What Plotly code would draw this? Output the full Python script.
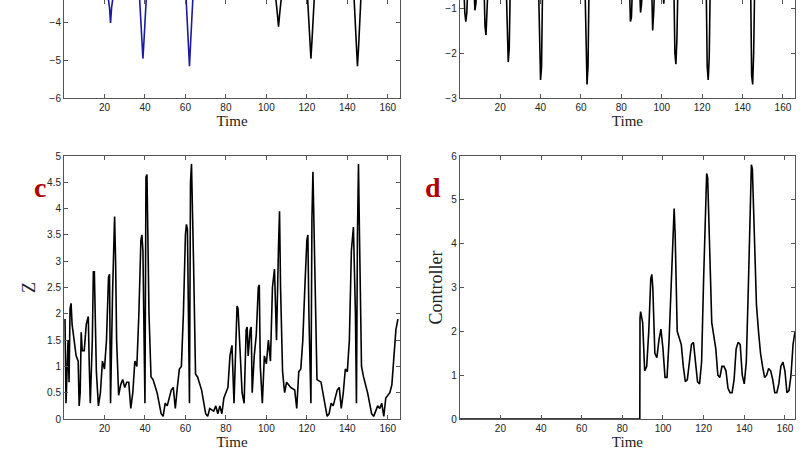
import plotly.graph_objects as go

# Panel a (top-left), downward spikes, blue before control, black after
a_t1 = [0, 21, 22.5, 23, 23.5, 25, 37, 38.5, 39, 39.5, 41, 60, 61.5, 62, 62.5, 64, 88]
a_v1 = [-3, -3, -3.6, -4.0, -3.6, -3, -3, -4.5, -4.95, -4.5, -3, -3, -4.6, -5.15, -4.6, -3, -3]
a_t2 = [88, 104, 105.5, 106, 106.5, 108, 120, 121.5, 122, 122.5, 124, 143, 144.5, 145, 145.5, 147, 165]
a_v2 = [-3, -3, -3.8, -4.1, -3.8, -3, -3, -4.5, -4.95, -4.5, -3, -3, -4.7, -5.15, -4.7, -3, -3]

# Panel b (top-right)
b_t = [0, 2, 2.5, 3, 3.5, 4, 7, 7.5, 8, 8.5, 12, 12.5, 13, 13.5, 14, 23, 23.5, 24, 24.5, 25,
       39, 39.5, 40, 40.5, 41, 62, 62.5, 63, 63.5, 64, 84, 84.5, 85, 85.5, 89, 89.5, 90, 90.5,
       95, 95.5, 96, 96.5, 100.5, 101, 101.5, 106, 106.5, 107, 107.5, 108, 122, 122.5, 123, 123.5, 124,
       144, 144.5, 145, 145.5, 146, 165]
b_v = [-0.5, -0.5, -1.1, -1.3, -1.1, -0.5, -0.5, -1.05, -0.9, -0.5, -0.5, -1.4, -1.6, -1.2, -0.5,
       -0.5, -1.5, -2.2, -1.9, -0.5, -0.5, -1.8, -2.6, -2.3, -0.5, -0.5, -2.1, -2.7, -2.3, -0.5,
       -0.5, -1.3, -1.2, -0.5, -0.5, -1.1, -0.9, -0.5, -0.5, -1.5, -1.1, -0.5, -0.5, -0.9, -0.5,
       -0.5, -2.0, -2.25, -1.7, -0.5, -0.5, -2.3, -2.6, -2.1, -0.5, -0.5, -2.5, -2.7, -2.0, -0.5, -0.5]

# Panel c: Z
c_t = [0.5, 1, 2, 2.5, 3, 3.5, 4, 5, 6, 7, 7.5, 8, 8.5, 9, 10, 11, 12, 12.5, 13, 14, 14.5, 15, 15.5, 16,
       17, 18, 19, 20, 21, 22, 22.5, 23, 24, 25, 25.5, 26, 27, 28, 29, 30, 31, 32, 33, 34, 35, 36, 37, 38,
       38.5, 39, 40, 40.5, 41, 42, 43, 44, 46, 48, 49, 50, 51, 53, 54, 55, 56, 57, 58, 59, 60, 60.5, 61,
       62, 62.5, 63, 64, 65, 66, 68, 70, 71, 72, 74, 75, 76, 77, 78, 79, 81, 82, 83, 84, 85, 85.5, 86,
       87, 88, 89, 90, 90.5, 91, 92, 92.5, 93, 94, 95, 96, 96.5, 97, 98, 99, 100, 101, 102, 103, 104,
       105, 106, 106.5, 107, 108, 109, 110, 112, 114, 115, 116, 117, 118, 119, 120, 120.5, 121, 122,
       122.5, 123, 124, 125, 127, 129, 130, 131, 132, 133, 135, 136, 137, 138, 139, 140, 141, 142, 143,
       144, 144.5, 145, 145.5, 146, 147, 148, 150, 152, 153, 155, 156, 157, 158, 159, 160, 161, 162, 163, 164, 165]
c_z = [1.9, 0.3, 1.5, 0.7, 2.1, 2.2, 1.8, 1.5, 1.2, 1.1, 0.25, 0.5, 1.65, 1.3, 1.3, 1.8, 1.95, 1.0, 0.3,
       1.5, 2.8, 2.8, 1.8, 0.9, 0.25, 0.5, 1.1, 0.95, 1.5, 2.7, 2.75, 0.3, 2.4, 3.85, 3.0, 1.5, 0.45,
       0.65, 0.75, 0.6, 0.7, 0.7, 0.2, 0.5, 1.1, 1.0, 2.0, 3.4, 3.5, 3.2, 0.3, 4.6, 4.65, 2.0, 0.8, 0.75,
       0.5, 0.1, 0.05, 0.3, 0.25, 0.55, 0.6, 0.2, 0.6, 0.95, 1.0, 2.0, 3.5, 3.7, 3.6, 0.3, 4.5, 4.85,
       3.0, 0.85, 0.8, 0.55, 0.1, 0.05, 0.2, 0.15, 0.25, 0.1, 0.25, 0.1, 0.4, 0.6, 1.2, 1.4, 0.3, 1.5,
       2.15, 2.1, 1.3, 0.5, 0.3, 1.7, 1.75, 1.2, 1.7, 1.75, 0.5, 1.2, 1.6, 2.5, 2.55, 1.0, 0.3, 1.2,
       1.05, 1.5, 1.1, 2.5, 2.85, 1.5, 3.3, 3.95, 2.5, 0.9, 0.5, 0.7, 0.6, 0.55, 0.2, 0.9, 0.95, 1.5,
       2.5, 3.4, 3.5, 2.0, 0.3, 3.8, 4.7, 3.0, 0.75, 0.7, 0.3, 0.05, 0.1, 0.3, 0.25, 0.55, 0.6, 0.2,
       0.5, 0.95, 0.9, 1.5, 3.2, 3.65, 2.0, 0.3, 3.5, 4.85, 3.5, 1.0, 0.8, 0.5, 0.1, 0.05, 0.25, 0.2,
       0.3, 0.05, 0.4, 0.45, 0.5, 0.65, 1.2, 1.7, 1.9]

# Panel d: Controller
d_t = [0, 88.6, 88.7, 89, 90, 91, 92, 93, 94, 94.5, 95, 96, 97, 98, 99, 100, 101, 102, 103, 104, 105,
       105.5, 106, 107, 108, 109, 110, 111, 112, 113, 114, 115, 116, 117, 118, 119, 120, 121, 121.5,
       122, 123, 124, 126, 127, 128, 129, 130, 131, 132, 133, 134, 135, 136, 137, 138, 139, 140, 141,
       142, 143, 143.5, 144, 145, 146, 147, 148, 149, 150, 151, 152, 153, 154, 155, 156, 157, 158, 159,
       160, 161, 162, 163, 164, 165]
d_u = [0, 0, 2.3, 2.45, 2.2, 1.1, 1.2, 2.0, 3.2, 3.3, 3.0, 1.5, 1.4, 1.8, 2.05, 1.6, 0.95, 0.95, 1.8,
       3.0, 4.5, 4.8, 4.2, 2.0, 1.85, 1.7, 1.2, 0.85, 0.9, 1.3, 1.7, 1.75, 1.3, 0.85, 0.8, 1.3, 3.2,
       5.0, 5.6, 5.5, 3.5, 2.2, 1.6, 1.0, 0.95, 1.2, 1.2, 1.1, 0.7, 0.6, 0.6, 0.9, 1.6, 1.75, 1.7, 1.0,
       0.8, 1.3, 3.0, 5.0, 5.8, 5.7, 4.0, 2.6, 2.0, 1.5, 1.2, 0.95, 1.0, 1.15, 1.1, 0.9, 0.6, 0.6, 0.8,
       1.2, 1.3, 1.1, 0.6, 0.65, 1.0, 1.7, 2.0]

x_ticks = [20, 40, 60, 80, 100, 120, 140, 160]

fig = go.Figure()
line_k = dict(color="black", width=1.6)
fig.add_trace(go.Scatter(x=a_t1, y=a_v1, mode="lines", line=dict(color="#1a1aa0", width=1.6), xaxis="x", yaxis="y"))
fig.add_trace(go.Scatter(x=a_t2, y=a_v2, mode="lines", line=line_k, xaxis="x", yaxis="y"))
fig.add_trace(go.Scatter(x=b_t, y=b_v, mode="lines", line=line_k, xaxis="x2", yaxis="y2"))
fig.add_trace(go.Scatter(x=c_t, y=c_z, mode="lines", line=line_k, xaxis="x3", yaxis="y3"))
fig.add_trace(go.Scatter(x=d_t, y=d_u, mode="lines", line=line_k, xaxis="x4", yaxis="y4"))

tick_font = dict(family="Arial, Liberation Sans", size=10, color="#222")
title_font = dict(family="Liberation Serif", size=15, color="#222")
ytitle_font = dict(family="Liberation Serif", size=18, color="#222")
common = dict(showline=True, linecolor="#555", linewidth=1, mirror="ticks", ticks="inside",
              ticklen=4, tickcolor="#555", showgrid=False, zeroline=False, tickfont=tick_font,
              automargin=False)
xc = dict(common, tickvals=x_ticks, title=dict(text="Time", font=title_font, standoff=2))

L = [0.0792, 0.495]
R = [0.569, 0.984]
T = [0.7846, 1.0]
B = [0.0791, 0.6571]

fig.update_layout(
    width=808, height=455, margin=dict(l=0, r=0, t=0, b=0),
    paper_bgcolor="white", plot_bgcolor="white", showlegend=False,
    xaxis=dict(xc, domain=L, anchor="y", range=[0, 166]),
    yaxis=dict(common, domain=T, anchor="x", range=[-6, -3.39], dtick=1),
    xaxis2=dict(xc, domain=R, anchor="y2", range=[0, 166]),
    yaxis2=dict(common, domain=T, anchor="x2", range=[-3, -0.82], dtick=1),
    xaxis3=dict(xc, domain=L, anchor="y3", range=[0, 166]),
    yaxis3=dict(common, domain=B, anchor="x3", range=[0, 5], dtick=0.5,
                title=dict(text="Z", font=ytitle_font, standoff=6)),
    xaxis4=dict(xc, domain=R, anchor="y4", range=[0, 165]),
    yaxis4=dict(common, domain=B, anchor="x4", range=[0, 6], dtick=1,
                title=dict(text="Controller", font=ytitle_font, standoff=3)),
    annotations=[
        dict(text="<b>c</b>", x=40 / 808, y=1 - 187 / 455, xref="paper", yref="paper", showarrow=False,
             xanchor="center", yanchor="middle",
             font=dict(family="Liberation Serif", size=28, color="#b00000")),
        dict(text="<b>d</b>", x=433 / 808, y=1 - 187 / 455, xref="paper", yref="paper", showarrow=False,
             xanchor="center", yanchor="middle",
             font=dict(family="Liberation Serif", size=28, color="#b00000")),
    ],
)

fig.write_html("out.html", config={"displayModeBar": False},
               post_script="document.body.style.margin='0';")
